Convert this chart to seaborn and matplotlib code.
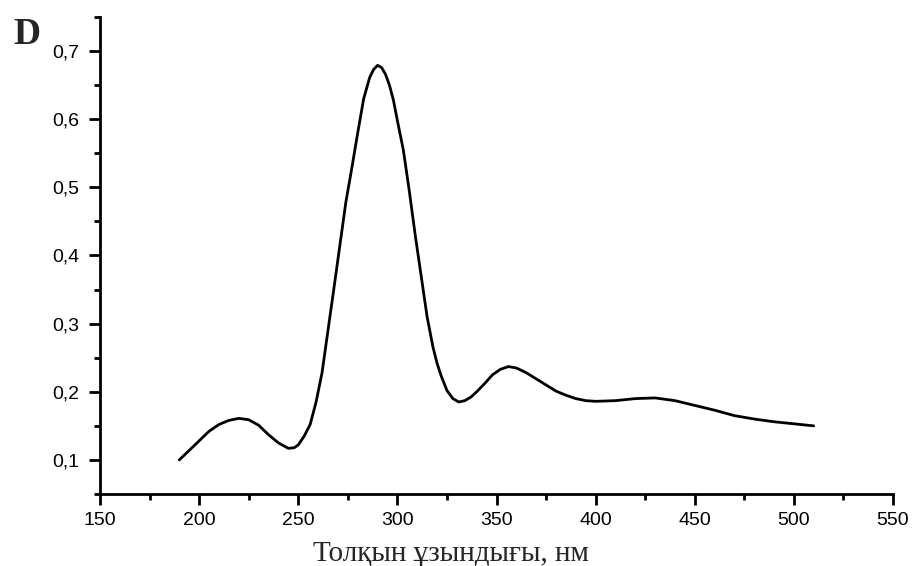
import matplotlib
matplotlib.use("Agg")
import matplotlib.pyplot as plt
from matplotlib.ticker import MultipleLocator, FuncFormatter
import seaborn as sns
import pandas as pd

wavelength = [190, 195, 200, 205, 210, 215, 220, 225, 230, 235, 240, 245, 248,
              250, 253, 256, 259, 262, 265, 268, 271, 274, 277, 280, 283, 286,
              288, 290, 292, 294, 296, 298, 300, 303, 306, 309, 312, 315, 318,
              320, 322, 325, 328, 331, 334, 337, 340, 344, 348, 352, 356, 360,
              365, 370, 375, 380, 385, 390, 395, 400, 410, 420, 430, 440, 450,
              460, 470, 480, 490, 500, 510]
absorbance = [0.100, 0.114, 0.128, 0.142, 0.152, 0.158, 0.161, 0.159, 0.151,
              0.137, 0.125, 0.117, 0.118, 0.122, 0.135, 0.152, 0.185, 0.228,
              0.290, 0.352, 0.415, 0.478, 0.528, 0.580, 0.630, 0.661, 0.673,
              0.679, 0.676, 0.666, 0.650, 0.628, 0.598, 0.555, 0.495, 0.430,
              0.370, 0.310, 0.265, 0.242, 0.224, 0.202, 0.190, 0.185, 0.187,
              0.192, 0.200, 0.212, 0.225, 0.233, 0.237, 0.235, 0.228, 0.219,
              0.210, 0.201, 0.195, 0.190, 0.187, 0.186, 0.187, 0.190, 0.191,
              0.187, 0.180, 0.173, 0.165, 0.160, 0.156, 0.153, 0.150]

x_label = "Толқын ұзындығы, нм"
panel_label = "D"

df = pd.DataFrame({"wl": wavelength, "A": absorbance})

sns.set_style("ticks")
plt.rcParams["font.family"] = ["Liberation Sans", "DejaVu Sans"]

fig = plt.figure(figsize=(9.13, 5.66), dpi=100)
ax = fig.add_axes([100 / 913, 72 / 566, 793 / 913, 477 / 566])

sns.lineplot(data=df, x="wl", y="A", ax=ax, color="black", linewidth=2.0)
for ln in ax.get_lines():
    ln.set_solid_joinstyle("round")
    ln.set_solid_capstyle("round")

ax.set_xlim(150, 550)
ax.set_ylim(0.05, 0.75)
ax.xaxis.set_major_locator(MultipleLocator(50))
ax.xaxis.set_minor_locator(MultipleLocator(25))
ax.yaxis.set_minor_locator(MultipleLocator(0.05))
ax.set_yticks([0.1, 0.2, 0.3, 0.4, 0.5, 0.6, 0.7])
ax.yaxis.set_major_formatter(FuncFormatter(lambda v, p: f"{v:.1f}".replace(".", ",")))

for side in ["top", "right"]:
    ax.spines[side].set_visible(False)
for side in ["left", "bottom"]:
    ax.spines[side].set_linewidth(2.0)
    ax.spines[side].set_color("black")

ax.tick_params(which="major", length=8, width=2, labelsize=14, colors="black")
ax.tick_params(which="minor", length=4, width=2, colors="black")
ax.tick_params(axis="x", pad=5)
ax.tick_params(axis="y", pad=7)

ax.set_xlabel(x_label, fontsize=21, family=["Liberation Serif", "DejaVu Serif"])
ax.xaxis.set_label_coords(0.443, -0.099)
ax.xaxis.label.set_va("top")
ax.set_ylabel("")

fig.text(13 / 913, 1 - 44 / 566, panel_label, fontsize=27, fontweight="bold",
         family=["Liberation Serif", "DejaVu Serif"], ha="left", va="baseline")

fig.savefig("out.png", dpi=100)
